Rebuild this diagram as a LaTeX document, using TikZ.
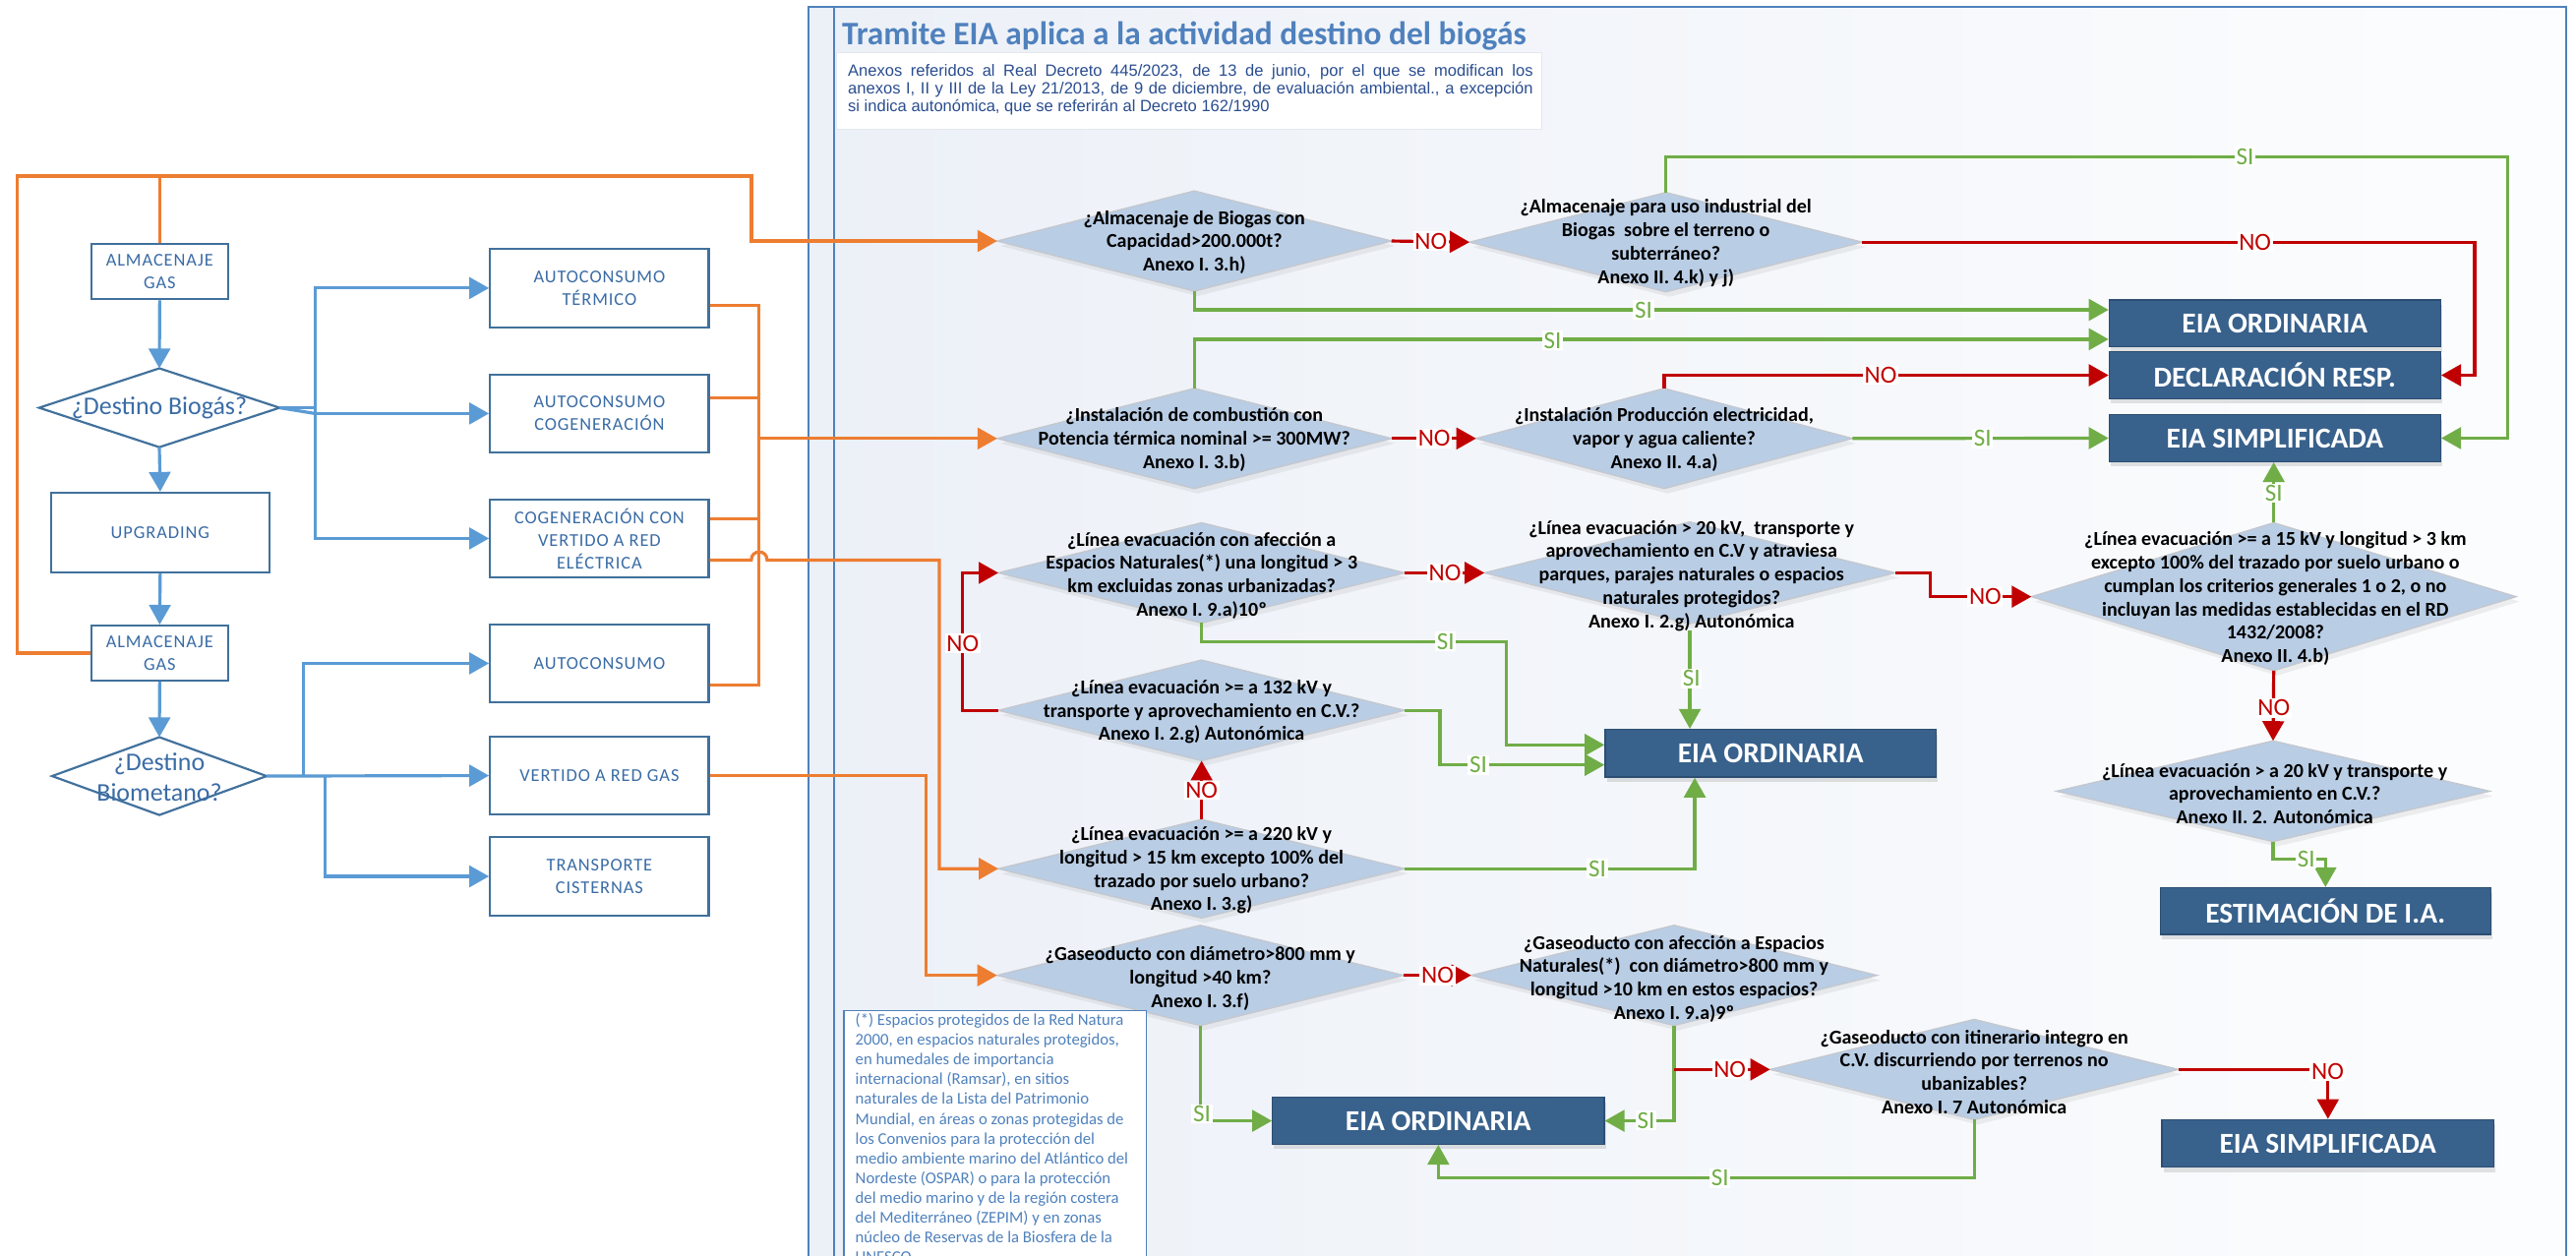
\documentclass[tikz,border=0pt]{standalone}
\usepackage{fontspec}
\setmainfont{Carlito}
\newfontfamily\arialfont{Liberation Sans}
\usetikzlibrary{arrows.meta,shapes.geometric,calc,shadows}

\definecolor{lblue}{HTML}{5B9BD5}
\definecolor{lbord}{HTML}{41719C}
\definecolor{ltext}{HTML}{3A6CA5}
\definecolor{orng}{HTML}{ED7D31}
\definecolor{grn}{HTML}{70AD47}
\definecolor{rd}{HTML}{C00000}
\definecolor{dfill}{HTML}{B9CDE5}
\definecolor{dline}{HTML}{C4C8CE}
\definecolor{rbox}{HTML}{38618C}
\definecolor{rbord}{HTML}{2C4E73}
\definecolor{pan}{HTML}{4F81BD}
\definecolor{panA}{HTML}{ECF0F7}
\definecolor{panB}{HTML}{FCFDFE}
\definecolor{titc}{HTML}{4F81BD}
\definecolor{notec}{HTML}{2A4D8F}
\definecolor{hdrbd}{HTML}{E3E7EE}

\newcommand\dtxtfont{\fontsize{12}{14.2}\selectfont\bfseries}
\newcommand\lboxfont{\fontsize{11}{13.8}\selectfont\addfontfeatures{LetterSpace=5}}
\newcommand\resfont{\fontsize{17.6}{19}\selectfont\bfseries}
\newcommand\labfont{\fontsize{15}{16}\selectfont}

\begin{document}
\begin{tikzpicture}[x=1pt,y=-1pt,
  tipA/.style={-{Triangle[length=12pt,width=13pt]}},
  bline/.style={draw=lblue,line width=1.9pt},
  barrow/.style={bline,tipA},
  oline/.style={draw=orng,line width=1.9pt},
  oarrow/.style={oline,tipA},
  gline/.style={draw=grn,line width=1.9pt},
  garrow/.style={gline,tipA},
  rline/.style={draw=rd,line width=1.9pt},
  rarrow/.style={rline,tipA},
  lbox/.style={draw=lbord,line width=1.3pt,fill=white,minimum width=#1,
    minimum height=47.6pt,inner sep=0pt,align=center,text=ltext,font=\lboxfont},
  lbox/.default=133.1pt,
  ldia/.style 2 args={shape=diamond,draw=lbord,line width=1.3pt,fill=white,
    minimum width=#1,minimum height=#2,inner sep=0pt,outer sep=0pt},
  dia/.style 2 args={shape=diamond,draw=dline,line width=0.8pt,fill=dfill,
    minimum width=#1,minimum height=#2,inner sep=0pt,outer sep=0pt,
    drop shadow={opacity=0.12,shadow xshift=2pt,shadow yshift=-3pt}},
  dtext/.style={align=center,font=\dtxtfont,text=black,inner sep=0pt},
  resbox/.style={fill=rbox,draw=rbord,line width=0.8pt,minimum width=#1,
    minimum height=28.6pt,inner sep=0pt,text=white,font=\resfont,
    drop shadow={opacity=0.22,shadow xshift=1pt,shadow yshift=-3pt}},
  resbox/.default=201.7pt,
  nolab/.style={fill=white,inner sep=1pt,font=\labfont,text=rd},
  silab/.style={fill=white,inner sep=1pt,font=\labfont,text=grn}]

\useasboundingbox (0,0) rectangle (1568,764);
\fill[white] (0,0) rectangle (1568,764);

% ---------- panel ----------
\shade[left color=panA,right color=panB] (492,4.4) rectangle (1562,790);
\draw[pan,line width=1.2pt] (492,4.4) rectangle (1562,790);
\draw[pan,line width=1.2pt] (507.7,4.4) -- (507.7,790);

\node[anchor=base west,inner sep=0pt,text=titc,font=\fontsize{20}{23}\selectfont\bfseries]
  (ttl) at (512.3,27) {Tramite EIA aplica a la actividad destino del biogás};
\node[anchor=north west,draw=hdrbd,fill=white,minimum width=429pt,minimum height=46.7pt,inner sep=0pt]
  (hdr) at (509,31.5) {};
\node[anchor=north west,inner sep=0pt,align=left,text=notec,font=\arialfont\fontsize{9.9}{11}\selectfont]
  (hdrt) at (516,38.8) {\makebox[417pt][s]{Anexos referidos al Real Decreto 445/2023, de 13 de junio, por el que se modifican los}\\
  \makebox[417pt][s]{anexos I, II y III de la Ley 21/2013, de 9 de diciembre, de evaluación ambiental., a excepción}\\
  si indica autonómica, que se referirán al Decreto 162/1990};

% ---------- left flow ----------
\node[lbox=83.3pt,minimum height=33.6pt] (alm1) at (97.2,165.3) {ALMACENAJE\\GAS};
\node[ldia={146.4pt}{48pt}] (dbio) at (97,248.2) {};
\node[inner sep=0pt,text=ltext,font=\fontsize{15.5}{18.8}\selectfont] (dbiot) at (97,248.6) {¿Destino Biogás?};
\node[lbox,minimum height=48.5pt] (upg) at (97.5,324.2) {UPGRADING};
\node[lbox=83.3pt,minimum height=33.3pt] (alm2) at (97.2,397.5) {ALMACENAJE\\GAS};
\node[ldia={130.6pt}{47.4pt}] (dbmt) at (97,472.4) {};
\node[inner sep=0pt,align=center,text=ltext,font=\fontsize{15.5}{18.8}\selectfont] (dbmtt) at (97,473) {¿Destino\\Biometano?};

\node[lbox] (ater) at (364.85,175.35) {AUTOCONSUMO\\TÉRMICO};
\node[lbox] (acog) at (364.85,251.7) {AUTOCONSUMO\\COGENERACIÓN};
\node[lbox] (cogv) at (364.85,327.75) {COGENERACIÓN CON\\VERTIDO A RED\\ELÉCTRICA};
\node[lbox] (auto) at (364.85,403.8) {AUTOCONSUMO};
\node[lbox] (vgas) at (364.85,472.1) {VERTIDO A RED GAS};
\node[lbox] (tcis) at (364.85,533.45) {TRANSPORTE\\CISTERNAS};

\draw[barrow] (alm1.south) -- (dbio.north);
\draw[barrow] (dbio.south) -- (upg.north);
\draw[barrow] (upg.south) -- (alm2.north);
\draw[barrow] (alm2.south) -- (dbmt.north);

\coordinate (bj) at (191.7,248.2);
\draw[bline] (dbio.east) -- (bj);
\draw[bline] (dbio.east) -- (bj |- acog.west);
\draw[barrow] (bj) |- (ater.west);
\draw[barrow] (bj |- acog.west) -- (acog.west);
\draw[barrow] (bj) |- (cogv.west);

\coordinate (bk) at (184.8,472.2);
\coordinate (bm) at (198.1,472.2);
\draw[barrow] (dbmt.east) -- (vgas.west);
\draw[barrow] (bk) |- (auto.west);
\draw[barrow] (bm) |- (tcis.west);

% ---------- decisions ----------
\node[dia={240pt}{61pt}] (d1) at (727,146.7) {};
\node[dia={239pt}{60.5pt}] (d2) at (1014,147.4) {};
\node[dia={240pt}{61pt}] (d3) at (727,266.9) {};
\node[dia={229pt}{61pt}] (d4) at (1013,266.9) {};
\node[dia={247.4pt}{61pt}] (d5) at (731.4,348.7) {};
\node[dia={250pt}{62pt}] (d6) at (1028.6,348.7) {};
\node[dia={295pt}{90pt}] (d7) at (1384,363.2) {};
\node[dia={263.6pt}{61.3pt}] (d8) at (1383.6,481.6) {};
\node[dia={247.4pt}{61.3pt}] (d9) at (731.4,432.4) {};
\node[dia={247.4pt}{60pt}] (d10) at (731.4,528.8) {};
\node[dia={247.4pt}{61pt}] (d11) at (730.6,593.7) {};
\node[dia={247pt}{61pt}] (d12) at (1019,593.7) {};
\node[dia={248.5pt}{61pt}] (d13) at (1201.7,651) {};

% ---------- outcomes ----------
\node[resbox] (eo1) at (1384.7,196.9) {EIA ORDINARIA};
\node[resbox] (dr) at (1384.7,228.4) {DECLARACIÓN RESP.};
\node[resbox] (es1) at (1384.7,266.7) {EIA SIMPLIFICADA};
\node[resbox=201.5pt,minimum height=29pt] (eo2) at (1077.75,458.5) {EIA ORDINARIA};
\node[resbox=201.2pt,minimum height=28.4pt] (est) at (1415.5,554.6) {ESTIMACIÓN DE I.A.};
\node[resbox=201.8pt,minimum height=28.5pt] (eo3) at (875.5,682.25) {EIA ORDINARIA};
\node[resbox=202pt,minimum height=29pt] (es2) at (1417,696) {EIA SIMPLIFICADA};

% ---------- orange feeds into the panel ----------
\coordinate (tl) at (10.5,107.2);
\coordinate (tr) at (457.4,107.2);
\draw[oline] (alm1.north) -- (alm1.north |- tl);
\draw[oarrow] (alm2.west) -- (alm2.west -| tl) -- (tl) -- (tr) |- (d1.west);

\coordinate (bus) at (462.1,266.4);
\draw[oline] ($(ater.east)+(0,10.65)$) -| (bus);
\draw[oline] ($(auto.east)+(0,13.1)$) -| (bus);
\draw[oline] ($(acog.east)+(0,-9.5)$) -- ++(30.7,0);
\draw[oline] ($(cogv.east)+(0,-11.85)$) -- ++(30.7,0);
\draw[oarrow] (bus |- d3.west) -- (d3.west);
\draw[oarrow] ($(cogv.east)+(0,13.15)$) -- (457.3,340.9)
  .. controls (457.3,334.3) and (466.9,334.3) .. (466.9,340.9) -- (571.8,340.9) |- (d10.west);
\draw[oarrow] (vgas.east) -- (563.8,472.1) |- (d11.west);

% ---------- decision connectors ----------
\draw[garrow] (d1.south) |- ($(eo1.west)+(0,-8.3)$);
\draw[rarrow] (d1.east) -- (d2.west);
\draw[garrow] (d2.north) |- (1526.5,95.4) |- (es1.east);
\draw[rarrow] (d2.east) -| ($(dr.east)+(20.35,0)$) -- (dr.east);
\draw[garrow] (d3.north) |- ($(eo1.west)+(0,9.6)$);
\draw[rarrow] (d3.east) -- (d4.west);
\draw[rarrow] (d4.north) |- (dr.west);
\draw[garrow] (d4.east) -- (es1.west);
\draw[rarrow] (d5.east) -- (d6.west);
\draw[garrow] (d5.south) |- (917,390.5) |- ($(eo2.west)+(0,-5.1)$);
\draw[garrow] ($(d6.south)+(0,4)$) -- (d6.south |- eo2.north);
\draw[rarrow] (d6.east) -| (1175.1,363.2) -- (d7.west);
\draw[garrow] (d7.north) -- (d7.north |- es1.south);
\draw[rarrow] (d7.south) -- (d8.north);
\draw[garrow] (d8.south) -- (d8.south |- 0,522.9) -| (est.north);
\draw[rarrow] (d9.west) -- (586,432.4) |- (d5.west);
\draw[garrow] (d9.east) -| ($(eo2.west)+(-100.1,7.1)$) -- ($(eo2.west)+(0,7.1)$);
\draw[rarrow] (d10.north) -- (d9.south);
\draw[garrow] (d10.east) -| ($(eo2.south)+(-46.15,0)$);
\draw[rarrow] (d11.east) -- (d12.west);
\draw[garrow] (d11.south) |- (eo3.west);
\draw[garrow] (d12.south) |- (eo3.east);
\draw[rarrow] (d12.south |- d13.west) -- (d13.west);
\draw[rarrow] (d13.east) -| (es2.north);
\draw[garrow] (d13.south) -- (d13.south |- 0,717) -| (eo3.south);

% ---------- decision texts ----------
\node[dtext] (t1) at (727,147.5) {¿Almacenaje de Biogas con\\Capacidad>200.000t?\\Anexo I. 3.h)};
\node[dtext] (t2) at (1014,148) {¿Almacenaje para uso industrial del\\Biogas\ \ sobre el terreno o\\subterráneo?\\Anexo II. 4.k) y j)};
\node[dtext] (t3) at (727,267.5) {¿Instalación de combustión con\\Potencia térmica nominal >= 300MW?\\Anexo I. 3.b)};
\node[dtext] (t4) at (1013,267.5) {¿Instalación Producción electricidad,\\vapor y agua caliente?\\Anexo II. 4.a)};
\node[dtext] (t5) at (731.4,350.3) {¿Línea evacuación con afección a\\Espacios Naturales(*) una longitud > 3\\km excluidas zonas urbanizadas?\\Anexo I. 9.a)10º};
\node[dtext] (t6) at (1029.6,350.4) {¿Línea evacuación > 20 kV,\ \ transporte y\\aprovechamiento en C.V y atraviesa\\parques, parajes naturales o espacios\\naturales protegidos?\\Anexo I. 2.g) Autonómica};
\node[dtext] (t7) at (1385,364.4) {¿Línea evacuación >= a 15 kV y longitud > 3 km\\excepto 100\% del trazado por suelo urbano o\\cumplan los criterios generales 1 o 2, o no\\incluyan las medidas establecidas en el RD\\1432/2008?\\Anexo II. 4.b)};
\node[dtext] (t8) at (1384.6,483) {¿Línea evacuación > a 20 kV y transporte y\\aprovechamiento en C.V.?\\Anexo II. 2. Autonómica};
\node[dtext] (t9) at (731.4,433.3) {¿Línea evacuación >= a 132 kV y\\transporte y aprovechamiento en C.V.?\\Anexo I. 2.g) Autonómica};
\node[dtext] (t10) at (731.4,529.8) {¿Línea evacuación >= a 220 kV y\\longitud > 15 km excepto 100\% del\\trazado por suelo urbano?\\Anexo I. 3.g)};
\node[dtext] (t11) at (730.6,595.8) {¿Gaseoducto con diámetro>800 mm y\\longitud >40 km?\\Anexo I. 3.f)};
\node[dtext] (t12) at (1019,595.9) {¿Gaseoducto con afección a Espacios\\Naturales(*)\ \ con diámetro>800 mm y\\longitud >10 km en estos espacios?\\Anexo I. 9.a)9º};
\node[dtext] (t13) at (1201.7,652.5) {¿Gaseoducto con itinerario integro en\\C.V. discurriendo por terrenos no\\ubanizables?\\Anexo I. 7 Autonómica};

% ---------- branch labels ----------
\node[nolab] (n1) at (871,146.9) {NO};
\node[silab] (s1) at (1000.4,188.6) {SI};
\node[silab] (s2) at (1366.5,95.4) {SI};
\node[nolab] (n2) at (1372.6,147.4) {NO};
\node[silab] (s3) at (945,207.2) {SI};
\node[nolab] (n3) at (873,266.9) {NO};
\node[nolab] (n4) at (1144.7,228.4) {NO};
\node[silab] (s4) at (1206.8,266.8) {SI};
\node[nolab] (n5) at (879.5,348.7) {NO};
\node[silab] (s5) at (880,390.5) {SI};
\node[silab] (s6) at (1029.6,413) {SI};
\node[nolab] (n6) at (1208.4,363.2) {NO};
\node[silab] (s7) at (1384,300.3) {SI};
\node[nolab] (n7) at (1384,431) {NO};
\node[silab] (s8) at (1403.8,522.9) {SI};
\node[nolab] (n8) at (586,391.6) {NO};
\node[silab] (s9) at (899.8,465.6) {SI};
\node[nolab] (n9) at (731.4,481) {NO};
\node[silab] (s10) at (972.3,528.8) {SI};
\node[nolab] (n10) at (875,593.7) {NO};
\node[silab] (s11) at (731.6,678) {SI};
\node[silab] (s12) at (1002,682) {SI};
\node[nolab] (n11) at (1052.9,651) {NO};
\node[nolab] (n12) at (1416.8,652) {NO};
\node[silab] (s13) at (1047,717) {SI};

% ---------- footnote ----------
\node[anchor=north west,draw=pan,line width=1pt,fill=white,minimum width=184.3pt,
  minimum height=200pt,inner sep=0pt] (fn) at (513,614.6) {};
\node[anchor=north west,inner sep=0pt,align=left,text=pan,font=\fontsize{10}{12}\selectfont]
  (fnt) at (520.5,616.8) {(*) Espacios protegidos de la Red Natura\\
  2000, en espacios naturales protegidos,\\
  en humedales de importancia\\
  internacional (Ramsar), en sitios\\
  naturales de la Lista del Patrimonio\\
  Mundial, en áreas o zonas protegidas de\\
  los Convenios para la protección del\\
  medio ambiente marino del Atlántico del\\
  Nordeste (OSPAR) o para la protección\\
  del medio marino y de la región costera\\
  del Mediterráneo (ZEPIM) y en zonas\\
  núcleo de Reservas de la Biosfera de la\\
  UNESCO.};
\end{tikzpicture}
\end{document}
